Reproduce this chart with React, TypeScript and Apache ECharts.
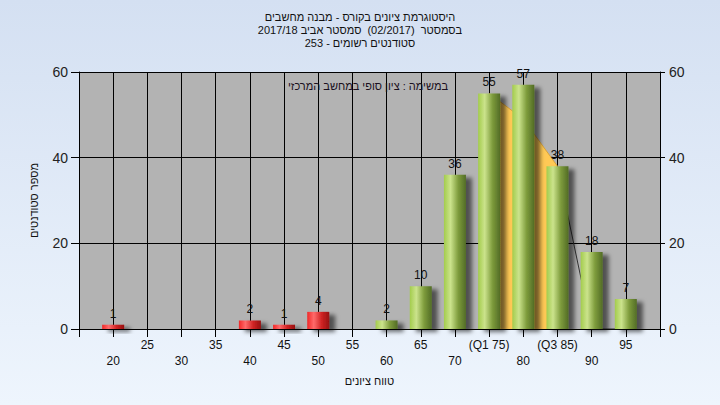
import React, { useEffect, useRef } from "react";
import * as echarts from "echarts";

const bins = [20, 25, 30, 35, 40, 45, 50, 55, 60, 65, 70, 75, 80, 85, 90, 95];
const counts = [1, 0, 0, 0, 2, 1, 4, 0, 2, 10, 36, 55, 57, 38, 18, 7];
const failBelow = 55;
const curveBins = [75, 80, 85, 90, 95];
const curveValues = [55, 49, 38, 0, 0];
const q1 = 75;
const q3 = 85;
const specialTickLabels: Record<number, string> = { 75: "(Q1 75)", 85: "(Q3 85)" };
const yTicks = [0, 20, 40, 60];
const titleLines = [
  "היסטוגרמת ציונים בקורס - מבנה מחשבים",
  "בסמסטר  (02/2017)  סמסטר אביב 2017/18",
  "סטודנטים רשומים - 253",
];
const noteText = "במשימה : ציון סופי במחשב המרכזי";
const xName = "טווח ציונים";
const yName = "מספר סטודנטים";

const FONT = "'Liberation Sans', 'DejaVu Sans', Arial, sans-serif";

export default function App() {
  const ref = useRef<HTMLDivElement>(null);
  useEffect(() => {
    if (!ref.current) return;
    const chart = echarts.init(ref.current, null, { renderer: "svg" });
    const green = new echarts.graphic.LinearGradient(0, 0, 1, 0, [
      { offset: 0, color: "#a3cc4c" },
      { offset: 0.3, color: "#cbe38c" },
      { offset: 0.65, color: "#7e9c3c" },
      { offset: 1, color: "#526c26" },
    ]);
    const red = new echarts.graphic.LinearGradient(0, 0, 1, 0, [
      { offset: 0, color: "#f02828" },
      { offset: 0.3, color: "#ff6a6a" },
      { offset: 0.65, color: "#d02424" },
      { offset: 1, color: "#961010" },
    ]);
    const barData = bins
      .map((b, i) => ({ b, c: counts[i] }))
      .filter((d) => d.c > 0)
      .map((d) => ({ value: [d.b, d.c], itemStyle: { color: d.b < failBelow ? red : green } }));
    const curve = curveBins.map((b, i) => [b, curveValues[i]]);
    const areaPts = curve.filter((p) => p[0] >= q1 && p[0] <= q3);
    const tailPts = curve.filter((p) => p[0] >= q3);

    chart.setOption({
      animation: false,
      backgroundColor: new echarts.graphic.LinearGradient(0, 0, 0, 1, [
        { offset: 0, color: "#d4e0f2" },
        { offset: 1, color: "#eef5fd" },
      ]),
      textStyle: { fontFamily: FONT },
      title: {
        text: titleLines.join("\n"),
        left: "center",
        top: 10,
        padding: 0,
        textStyle: { fontSize: 11, fontWeight: "normal", color: "#111", lineHeight: 13, fontFamily: FONT },
      },
      graphic: [
        {
          type: "text",
          x: 368,
          y: 86,
          style: {
            text: noteText,
            fill: "#1a1020",
            font: `11px ${FONT}`,
            textAlign: "center",
            textVerticalAlign: "middle",
          },
          z: 10,
        },
      ],
      grid: {
        left: 79,
        right: 60,
        top: 72,
        bottom: 76,
        show: true,
        backgroundColor: "#b3b3b3",
        borderWidth: 0,
      },
      xAxis: {
        type: "value",
        min: 15,
        max: 100,
        interval: 5,
        name: xName,
        nameLocation: "middle",
        nameGap: 46,
        nameTextStyle: { fontSize: 11, color: "#111" },
        axisLine: { show: true, lineStyle: { color: "#000", width: 1 } },
        axisTick: { show: true, length: 8, inside: false, lineStyle: { color: "#000" } },
        splitLine: { show: true, lineStyle: { color: "#000", width: 1 } },
        axisLabel: {
          fontSize: 12,
          color: "#111",
          margin: 8,
          lineHeight: 16,
          formatter: (v: number) => {
            if (v < bins[0] || v > bins[bins.length - 1]) return "";
            const t = specialTickLabels[v] ?? String(v);
            return v % 10 === 0 ? "\n" + t : t;
          },
        },
      },
      yAxis: [
        {
          type: "value",
          min: yTicks[0],
          max: yTicks[yTicks.length - 1],
          interval: 20,
          position: "left",
          name: yName,
          nameLocation: "middle",
          nameRotate: 90,
          nameGap: 40,
          nameTextStyle: { fontSize: 11, color: "#111" },
          axisLine: { show: true, lineStyle: { color: "#000" } },
          axisTick: { show: true, length: 8, lineStyle: { color: "#000" } },
          splitLine: { show: true, lineStyle: { color: "#000", width: 1 } },
          axisLabel: { fontSize: 14, color: "#222", margin: 11 },
        },
        {
          type: "value",
          min: yTicks[0],
          max: yTicks[yTicks.length - 1],
          interval: 20,
          position: "right",
          axisLine: { show: true, lineStyle: { color: "#000" } },
          axisTick: { show: true, length: 5, lineStyle: { color: "#000" } },
          splitLine: { show: false },
          axisLabel: { fontSize: 14, color: "#222", margin: 9 },
        },
      ],
      series: [
        {
          type: "line",
          data: areaPts,
          symbol: "none",
          lineStyle: { color: "#d9a33a", width: 1 },
          areaStyle: { color: "#ffc955", opacity: 1 },
          z: 1,
          silent: true,
        },
        {
          type: "line",
          data: tailPts,
          symbol: "none",
          lineStyle: { color: "#333", width: 1 },
          z: 1,
          silent: true,
        },
        {
          type: "bar",
          data: barData,
          barWidth: 22,
          clip: false,
          z: 3,
          itemStyle: {
            shadowColor: "rgba(0,0,0,0.55)",
            shadowBlur: 4,
            shadowOffsetX: 6,
            shadowOffsetY: 3,
          },
          label: {
            show: true,
            position: "top",
            distance: 5,
            fontSize: 12,
            color: "#111",
          },
        },
      ],
    });
    return () => chart.dispose();
  }, []);
  return (
    <div
      ref={ref}
      style={{ position: "absolute", left: 0, top: 0, width: 720, height: 405 }}
    />
  );
}
